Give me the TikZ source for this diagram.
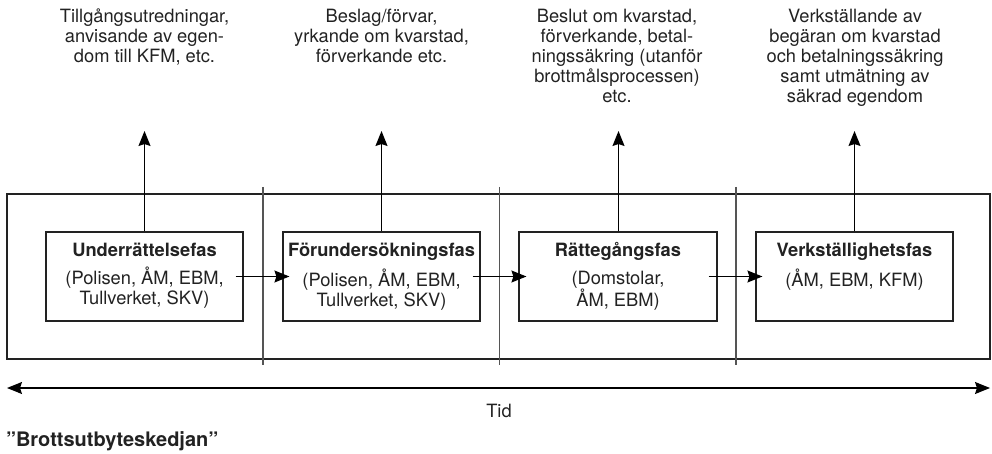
\documentclass[tikz,border=0pt]{standalone}
\usepackage{fontspec}
\setmainfont{TeX Gyre Heros}
\usetikzlibrary{arrows.meta}
\newcommand\topstrut{\rule{0pt}{16pt}}
\definecolor{ink}{HTML}{222222}
\definecolor{sepgray}{HTML}{555555}
\tikzset{
  lbl/.style={inner sep=0pt, outer sep=0pt, align=center, text=ink, font=\fontsize{18.3}{20}\selectfont, anchor=north},
  phasebox/.style={draw=ink, line width=1.2pt, minimum width=197pt, minimum height=89pt, inner sep=0pt},
  frame/.style={draw=ink, line width=1.2pt, minimum width=983pt, minimum height=165pt, inner sep=0pt},
  sep/.style={draw=sepgray, line width=1.1pt},
  arr/.style={draw=black, line width=1.2pt, -{Stealth[length=15pt, width=12pt, inset=2pt]}},
  darr/.style={draw=black, line width=1.2pt, {Stealth[length=15pt, width=12pt, inset=2pt]}-{Stealth[length=15pt, width=12pt, inset=2pt]}}
}
\begin{document}
\begin{tikzpicture}[x=1pt, y=-1pt]
\useasboundingbox (0,0) rectangle (992,454);
% frame
\node[frame] (frame) at (498.5,276.5) {};
% separators
\coordinate (s1a) at (263,187); \coordinate (s1b) at (263,365);
\coordinate (s2a) at (499.5,187); \coordinate (s2b) at (499.5,365);
\coordinate (s3a) at (736,187); \coordinate (s3b) at (736,365);
\draw[sep] (s1a) -- (s1b);
\draw[sep] (s2a) -- (s2b);
\draw[sep] (s3a) -- (s3b);
% phase boxes
\node[phasebox, fill=white] (b1) at (144.5,276.5) {};
\node[phasebox, fill=white] (b2) at (381.5,276.5) {};
\node[phasebox, fill=white, minimum width=198pt] (b3) at (618,276.5) {};
\node[phasebox, fill=white] (b4) at (854.5,276.5) {};
\node[lbl] (b1t) at (144.5,240) {\topstrut\textbf{Underrättelsefas}\\[8pt](Polisen, ÅM, EBM,\\Tullverket, SKV)};
\node[lbl] (b2t) at (381.5,240) {\topstrut\textbf{Förundersökningsfas}\\[8pt](Polisen, ÅM, EBM,\\Tullverket, SKV)};
\node[lbl] (b3t) at (618,240) {\topstrut\textbf{Rättegångsfas}\\[8pt](Domstolar,\\ÅM, EBM)};
\node[lbl] (b4t) at (854.5,240) {\topstrut\textbf{Verkställighetsfas}\\[8pt](ÅM, EBM, KFM)};
% top texts
\node[lbl] (t1) at (144.5,7) {\topstrut Tillgångsutredningar,\\anvisande av egen-\\dom till KFM, etc.};
\node[lbl] (t2) at (381.5,7) {\topstrut Beslag/förvar,\\yrkande om kvarstad,\\förverkande etc.};
\node[lbl] (t3) at (617,7) {\topstrut Beslut om kvarstad,\\förverkande, betal-\\ningssäkring (utanför\\brottmålsprocessen)\\etc.};
\node[lbl] (t4) at (855,7) {\topstrut Verkställande av\\begäran om kvarstad\\och betalningssäkring\\samt utmätning av\\säkrad egendom};
% up arrows
\coordinate (u1) at (144.5,131);
\coordinate (u2) at (381.5,131);
\coordinate (u3) at (618.5,131);
\coordinate (u4) at (854.5,131);
\draw[arr] (b1.north) -- (u1);
\draw[arr] (b2.north) -- (u2);
\draw[arr] ([xshift=0.5pt]b3.north) -- (u3);
\draw[arr] (b4.north) -- (u4);
% horizontal arrows
\draw[arr] ([xshift=-8pt]b1.east) -- ([xshift=7pt]b2.west);
\draw[arr] ([xshift=-8pt]b2.east) -- ([xshift=8pt]b3.west);
\draw[arr] ([xshift=-9pt]b3.east) -- ([xshift=7pt]b4.west);
% time axis
\coordinate (tl) at (7,388);
\coordinate (tr) at (990,388);
\draw[darr] (tl) -- (tr);
\node[lbl, anchor=base] (tid) at (499,417) {Tid};
\node[lbl, anchor=base west, font=\fontsize{20}{22}\selectfont\bfseries] (title) at (6,446) {”Brottsutbyteskedjan”};
\end{tikzpicture}
\end{document}
